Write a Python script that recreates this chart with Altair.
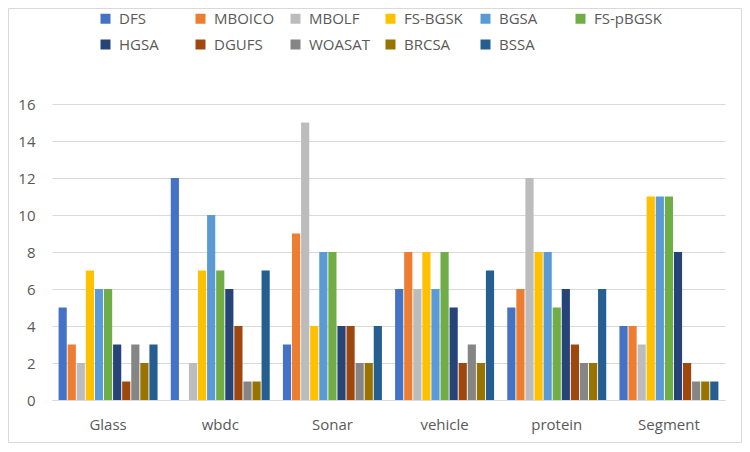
import altair as alt
import pandas as pd

datasets = ["Glass", "wbdc", "Sonar", "vehicle", "protein", "Segment"]
methods = ["DFS", "MBOICO", "MBOLF", "FS-BGSK", "BGSA", "FS-pBGSK",
           "HGSA", "DGUFS", "WOASAT", "BRCSA", "BSSA"]
colors = ["#4472C4", "#ED7D31", "#BCBCBC", "#FFC000", "#5B9BD5", "#70AD47",
          "#264478", "#9E480E", "#858585", "#997300", "#255E91"]

DFS      = [5, 12, 3, 6, 5, 4]
MBOICO   = [3, 0, 9, 8, 6, 4]
MBOLF    = [2, 2, 15, 6, 12, 3]
FS_BGSK  = [7, 7, 4, 8, 8, 11]
BGSA     = [6, 10, 8, 6, 8, 11]
FS_pBGSK = [6, 7, 8, 8, 5, 11]
HGSA     = [3, 6, 4, 5, 6, 8]
DGUFS    = [1, 4, 4, 2, 3, 2]
WOASAT   = [3, 1, 2, 3, 2, 1]
BRCSA    = [2, 1, 2, 2, 2, 1]
BSSA     = [3, 7, 4, 7, 6, 1]

series = [DFS, MBOICO, MBOLF, FS_BGSK, BGSA, FS_pBGSK, HGSA, DGUFS, WOASAT, BRCSA, BSSA]
rows = []
for m, vals in zip(methods, series):
    for d, v in zip(datasets, vals):
        rows.append({"dataset": d, "method": m, "value": v})
df = pd.DataFrame(rows)

W, H = 673, 296
FONT = "Open Sans"
GREY = "#595959"

bars = alt.Chart(df).mark_bar().encode(
    x=alt.X("dataset:N", sort=datasets, title=None,
            scale=alt.Scale(paddingInner=0.1176, paddingOuter=0.0588),
            axis=alt.Axis(labelAngle=0, labelFont=FONT, labelFontSize=15,
                          labelColor=GREY, labelPadding=17, ticks=False,
                          domainColor="#d9d9d9", domainWidth=1, grid=False)),
    xOffset=alt.XOffset("method:N", sort=methods,
                        scale=alt.Scale(paddingInner=0.1, paddingOuter=0)),
    y=alt.Y("value:Q", title=None,
            scale=alt.Scale(domain=[0, 16]),
            axis=alt.Axis(values=list(range(0, 17, 2)), labelFont=FONT,
                          labelFontSize=15, labelColor=GREY, labelPadding=17,
                          ticks=False, domain=False, gridColor="#d9d9d9",
                          gridWidth=1)),
    color=alt.Color("method:N", sort=methods,
                    scale=alt.Scale(domain=methods, range=colors),
                    legend=alt.Legend(title=None, orient="none", direction="horizontal",
                                      columns=6, legendX=46, legendY=-93,
                                      gridAlign="all", symbolType="square",
                                      symbolSize=100, symbolStrokeWidth=0,
                                      labelFont=FONT, labelFontSize=15,
                                      labelColor=GREY, labelOffset=6,
                                      columnPadding=6, rowPadding=10,
                                      labelLimit=200)),
)

border = alt.Chart(pd.DataFrame({"a": [0]})).mark_rect(
    fill=None, stroke="#d9d9d9", strokeWidth=1, clip=False
).encode(x=alt.value(-43.5), x2=alt.value(W + 16.5),
         y=alt.value(-95.5), y2=alt.value(H + 42.5))

chart = alt.layer(bars, border).properties(
    width=W, height=H,
    autosize=alt.AutoSizeParams(type="none"),
    padding={"left": 44, "top": 96, "right": 17, "bottom": 44},
).configure_view(stroke=None)

chart.save("out.html", embed_options={"renderer": "svg", "actions": False})
